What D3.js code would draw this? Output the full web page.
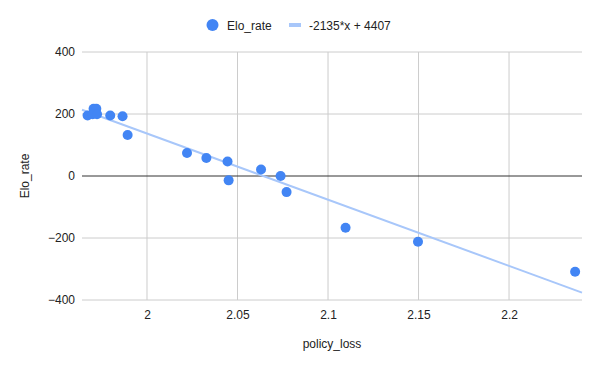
<!DOCTYPE html>
<html>
<head>
<meta charset="utf-8">
<script src="https://cdn.jsdelivr.net/npm/d3@7"></script>
<style>
body { margin: 0; background: #fff; }
text { font-family: "Liberation Sans", Arial, sans-serif; }
</style>
</head>
<body>
<script>
// policy_loss vs Elo_rate
var policyLoss = [1.9672, 1.9705, 1.9720, 1.9700, 1.9724, 1.9797, 1.9865, 1.9893, 2.0221, 2.0328,
                  2.0445, 2.0451, 2.0630, 2.0738, 2.0771, 2.1097, 2.1497, 2.2365];
var eloRate = [195, 217, 217, 199, 199, 195, 193, 132, 74, 58,
               47, -14, 21, 0, -52, -167, -212, -309];
var xTicks = [2, 2.05, 2.1, 2.15, 2.2];
var yTicks = [-400, -200, 0, 200, 400];
var trend = {slope: -2135, intercept: 4407};

var svg = d3.select("body").append("svg")
    .attr("width", 600)
    .attr("height", 371),
    margin = {top: 52, right: 18, bottom: 71, left: 82},
    width = 600 - margin.left - margin.right,
    height = 371 - margin.top - margin.bottom,
    g = svg.append("g").attr("transform", "translate(" + margin.left + "," + margin.top + ")");

var x = d3.scaleLinear()
    .domain([1.9641, 2.2403])
    .range([0, width]);

var y = d3.scaleLinear()
    .domain([-400, 400])
    .range([height, 0]);

// gridlines
g.append("g")
    .selectAll("line")
    .data(xTicks)
    .enter().append("line")
      .attr("x1", function(d) { return x(d); })
      .attr("x2", function(d) { return x(d); })
      .attr("y1", 0)
      .attr("y2", height)
      .attr("stroke", "#cccccc");

g.append("g")
    .selectAll("line")
    .data(yTicks)
    .enter().append("line")
      .attr("x1", 0)
      .attr("x2", width)
      .attr("y1", function(d) { return y(d); })
      .attr("y2", function(d) { return y(d); })
      .attr("stroke", function(d) { return d === 0 ? "#333333" : "#cccccc"; });

// axes (labels only)
var xAxis = g.append("g")
    .attr("transform", "translate(0," + height + ")")
    .call(d3.axisBottom(x).tickValues(xTicks).tickSize(0).tickPadding(10).tickFormat(d3.format("")));
xAxis.select(".domain").remove();
xAxis.selectAll("text").attr("font-size", 12).attr("fill", "#222");

var yAxis = g.append("g")
    .call(d3.axisLeft(y).tickValues(yTicks).tickSize(0).tickPadding(7));
yAxis.select(".domain").remove();
yAxis.selectAll("text").attr("font-size", 12).attr("fill", "#222");

// trendline
var trendLine = d3.line()
    .x(function(d) { return x(d); })
    .y(function(d) { return y(trend.slope * d + trend.intercept); });

g.append("path")
    .datum(x.domain())
    .attr("fill", "none")
    .attr("stroke", "#a8c7fa")
    .attr("stroke-width", 2)
    .attr("d", trendLine);

// points
g.append("g")
    .selectAll("circle")
    .data(policyLoss)
    .enter().append("circle")
      .attr("cx", function(d) { return x(d); })
      .attr("cy", function(d, i) { return y(eloRate[i]); })
      .attr("r", 5)
      .attr("fill", "#4285f4");

// axis titles
svg.append("text")
    .attr("x", margin.left + width / 2)
    .attr("y", 348)
    .attr("text-anchor", "middle")
    .attr("font-size", 12)
    .attr("fill", "#222")
    .text("policy_loss");

svg.append("text")
    .attr("transform", "translate(29," + (margin.top + height / 2) + ") rotate(-90)")
    .attr("text-anchor", "middle")
    .attr("font-size", 12)
    .attr("fill", "#222")
    .text("Elo_rate");

// legend
var legend = svg.append("g");
legend.append("circle")
    .attr("cx", 212.5)
    .attr("cy", 25)
    .attr("r", 6)
    .attr("fill", "#4285f4");
legend.append("text")
    .attr("x", 227)
    .attr("y", 29.5)
    .attr("font-size", 12)
    .attr("fill", "#222")
    .text("Elo_rate");
legend.append("line")
    .attr("x1", 289)
    .attr("x2", 301)
    .attr("y1", 25)
    .attr("y2", 25)
    .attr("stroke", "#a8c7fa")
    .attr("stroke-width", 4);
legend.append("text")
    .attr("x", 309)
    .attr("y", 29.5)
    .attr("font-size", 12)
    .attr("fill", "#222")
    .text("-2135*x + 4407");
</script>
</body>
</html>
